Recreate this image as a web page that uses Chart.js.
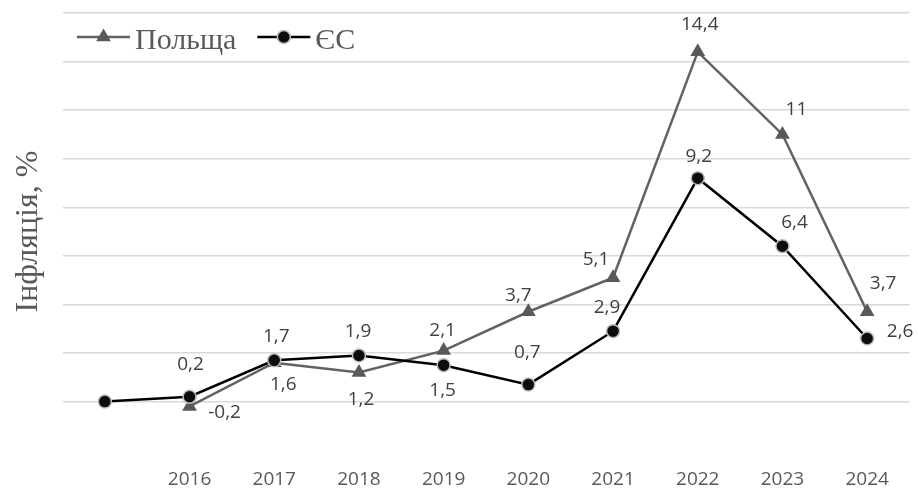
<!DOCTYPE html>
<html lang="uk">
<head>
<meta charset="utf-8">
<title>Інфляція: Польща та ЄС</title>
<script src="https://cdn.jsdelivr.net/npm/chart.js@4.4.1/dist/chart.umd.min.js"></script>
<style>
  html, body { margin: 0; padding: 0; background: #fff; }
  #wrap { width: 918px; height: 490px; }
</style>
</head>
<body>
<div id="wrap"><canvas id="inflationChart" width="918" height="490"></canvas></div>
<script>
// yearly inflation, %
const years = ["", "2016", "2017", "2018", "2019", "2020", "2021", "2022", "2023", "2024"];
const poland = [null, -0.2, 1.6, 1.2, 2.1, 3.7, 5.1, 14.4, 11, 3.7];
const eu = [0, 0.2, 1.7, 1.9, 1.5, 0.7, 2.9, 9.2, 6.4, 2.6];

// where each value label sits relative to its point, px
const polandLabelOffsets = [null, [35, 6], [9, 22], [2, 27], [-1, -20], [-10, -16], [-17, -18], [2, -27], [14, -25], [16, -28]];
const euLabelOffsets = [null, [1, -32], [2, -24], [-1, -24], [-1, 25], [-1, -32], [-6, -24], [1, -22], [12, -24], [33, -7]];

const sansFont = "'Open Sans', 'Liberation Sans', sans-serif";
const serifFont = "'Liberation Serif', 'DejaVu Serif', serif";

function formatValue(v) {
  return String(v).replace(".", ",");
}

// numbers next to the markers
const valueLabels = {
  id: "valueLabels",
  afterDatasetsDraw(chart) {
    const ctx = chart.ctx;
    ctx.save();
    ctx.font = "19px " + sansFont;
    ctx.fillStyle = "#404040";
    ctx.textAlign = "center";
    ctx.textBaseline = "middle";
    chart.data.datasets.forEach((ds, i) => {
      const meta = chart.getDatasetMeta(i);
      meta.data.forEach((pt, j) => {
        const off = ds.labelOffsets[j];
        if (!off || ds.data[j] == null) return;
        ctx.fillText(formatValue(ds.data[j]), pt.x + off[0], pt.y + off[1]);
      });
    });
    ctx.restore();
  }
};

// legend drawn inside the plot, line + marker + name
const lineLegend = {
  id: "lineLegend",
  afterDraw(chart) {
    const ctx = chart.ctx;
    const y = chart.chartArea.top + 24;
    let x = chart.chartArea.left + 14.5;
    ctx.save();
    ctx.font = "30px " + serifFont;
    chart.data.datasets.forEach(ds => {
      ctx.strokeStyle = ds.borderColor;
      ctx.lineWidth = ds.borderWidth;
      ctx.beginPath();
      ctx.moveTo(x, y);
      ctx.lineTo(x + 53, y);
      ctx.stroke();

      ctx.fillStyle = ds.pointBackgroundColor;
      ctx.strokeStyle = ds.pointBorderColor;
      ctx.lineWidth = ds.pointBorderWidth;
      Chart.helpers.drawPoint(ctx, {
        pointStyle: ds.pointStyle,
        radius: ds.pointRadius,
        rotation: 0,
        borderWidth: ds.pointBorderWidth
      }, x + 26.5, y);

      ctx.fillStyle = "#595959";
      ctx.textBaseline = "alphabetic";
      ctx.fillText(ds.label, x + 58, y + 12);
      x += 58 + ctx.measureText(ds.label).width + 21;
    });
    ctx.restore();
  }
};

new Chart(document.getElementById("inflationChart"), {
  type: "line",
  data: {
    labels: years,
    datasets: [
      {
        label: "Польща",
        data: poland,
        labelOffsets: polandLabelOffsets,
        borderColor: "#626262",
        borderWidth: 2.5,
        pointStyle: "triangle",
        pointRadius: 8.5,
        pointBackgroundColor: "#595959",
        pointBorderColor: "#595959",
        pointBorderWidth: 0,
        tension: 0,
        order: 1
      },
      {
        label: "ЄС",
        data: eu,
        labelOffsets: euLabelOffsets,
        borderColor: "#000000",
        borderWidth: 2.5,
        pointStyle: "circle",
        pointRadius: 6.5,
        pointBackgroundColor: "#0d0d0d",
        pointBorderColor: "#bdbdbd",
        pointBorderWidth: 1.5,
        tension: 0,
        order: 0
      }
    ]
  },
  options: {
    responsive: false,
    animation: false,
    layout: { padding: { left: 5, right: 5.5, top: 13, bottom: -19 } },
    plugins: {
      legend: { display: false },
      tooltip: { enabled: false }
    },
    scales: {
      x: {
        offset: true,
        grid: { display: false, drawTicks: false },
        border: { display: false },
        ticks: {
          color: "#595959",
          padding: 18,
          font: { family: sansFont, size: 19 }
        }
      },
      y: {
        min: -2,
        max: 16,
        grid: {
          drawTicks: false,
          lineWidth: 1.5,
          color: ctx => ctx.tick && ctx.tick.value === -2 ? "rgba(0,0,0,0)" : "#d9d9d9"
        },
        border: { display: false },
        ticks: { display: false, stepSize: 2 },
        title: {
          display: true,
          text: "Інфляція, %",
          color: "#595959",
          padding: { top: 4, bottom: 15.1 },
          font: { family: serifFont, size: 32, weight: "normal" }
        }
      }
    }
  },
  plugins: [valueLabels, lineLegend]
});
</script>
</body>
</html>
